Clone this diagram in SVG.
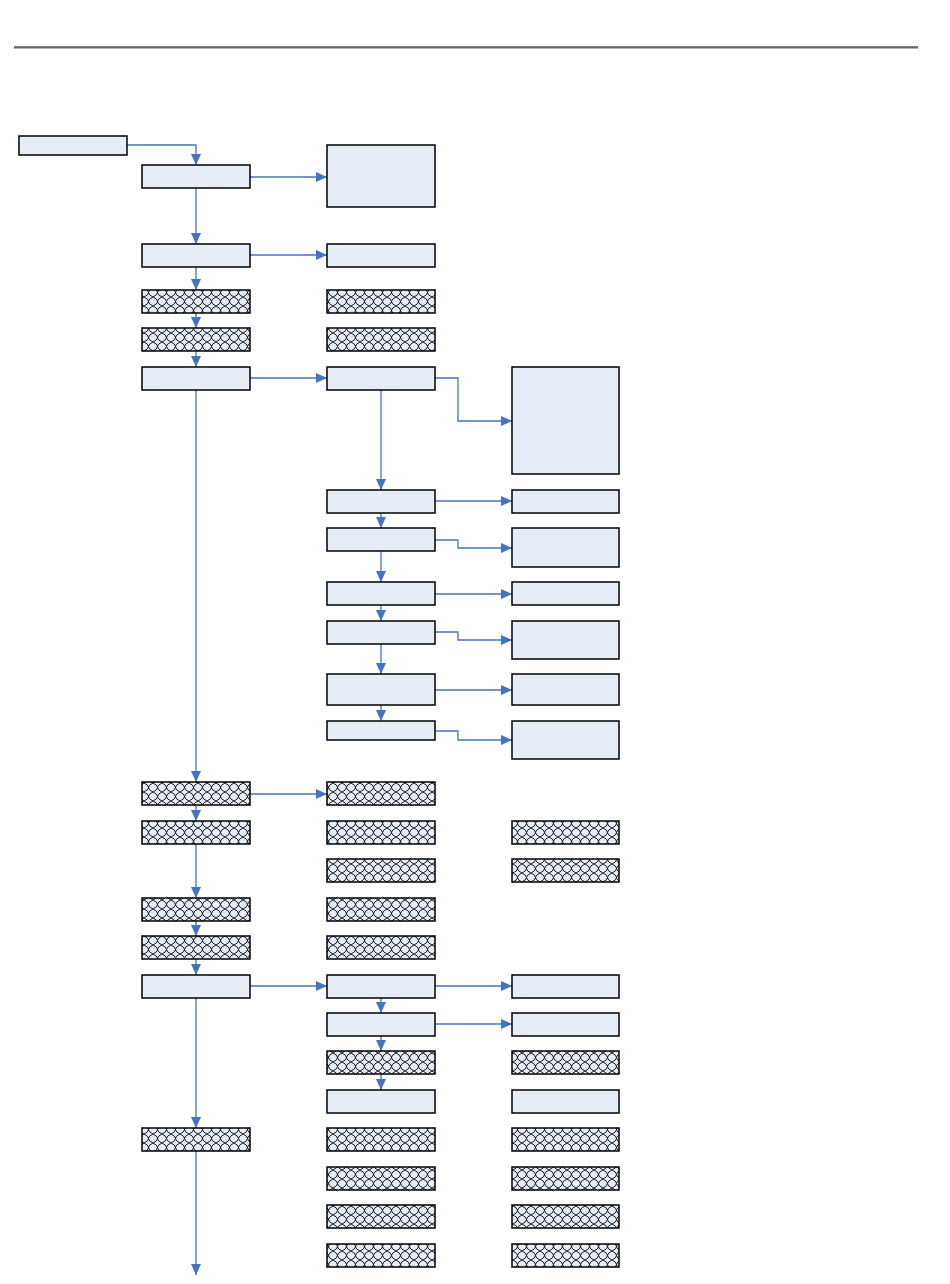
<svg xmlns="http://www.w3.org/2000/svg" width="950" height="1284" viewBox="0 0 950 1284">
<defs>
<style>
.b{fill:#E6EDF7;stroke:#000;stroke-width:1.5}
.h{fill:url(#hatch);stroke:#000;stroke-width:1.5}
.c{fill:none;stroke:#4472C4;stroke-width:1.3;marker-end:url(#arr)}
</style>
<pattern id="hatch" patternUnits="userSpaceOnUse" width="9" height="9">
<rect width="9" height="9" fill="#E6EDF7"/>
<path d="M0,0 Q4.5,2 4.5,4.5 Q4.5,7 9,9 M0,9 Q4.5,7 4.5,4.5 M4.5,4.5 Q4.5,2 9,0" stroke="#000" stroke-width="0.9" fill="none"/>
</pattern>
<marker id="arr" markerUnits="userSpaceOnUse" markerWidth="11" markerHeight="10" refX="11" refY="5" orient="auto">
<path d="M0,0 L11,5 L0,10 z" fill="#4472C4"/>
</marker>
</defs>
<rect width="950" height="1284" fill="#fff"/>
<line x1="14" y1="47" x2="918" y2="47" stroke="#808080" stroke-width="2"/>
<line x1="14" y1="48" x2="918" y2="48" stroke="#404040" stroke-width="0.8"/>
<g id="connectors">
<path class="c" d="M127,145 H196 V165"/>
<path class="c" d="M250,177 H327"/>
<path class="c" d="M196,188 V244"/>
<path class="c" d="M250,255 H327"/>
<path class="c" d="M196,267 V290"/>
<path class="c" d="M196,313 V328"/>
<path class="c" d="M196,351 V367"/>
<path class="c" d="M250,378 H327"/>
<path class="c" d="M435,378 H458 V421 H512"/>
<path class="c" d="M381,390 V490"/>
<path class="c" d="M435,501 H512"/>
<path class="c" d="M381,513 V528"/>
<path class="c" d="M435,540 H458 V548 H512"/>
<path class="c" d="M381,551 V582"/>
<path class="c" d="M435,594 H512"/>
<path class="c" d="M381,605 V621"/>
<path class="c" d="M435,632 H458 V640 H512"/>
<path class="c" d="M381,644 V674"/>
<path class="c" d="M435,690 H512"/>
<path class="c" d="M381,705 V721"/>
<path class="c" d="M435,731 H458 V740 H512"/>
<path class="c" d="M196,390 V782"/>
<path class="c" d="M250,794 H327"/>
<path class="c" d="M196,805 V821"/>
<path class="c" d="M196,844 V898"/>
<path class="c" d="M196,921 V936"/>
<path class="c" d="M196,959 V975"/>
<path class="c" d="M250,986 H327"/>
<path class="c" d="M435,986 H512"/>
<path class="c" d="M381,998 V1013"/>
<path class="c" d="M435,1024 H512"/>
<path class="c" d="M381,1036 V1051"/>
<path class="c" d="M381,1074 V1090"/>
<path class="c" d="M196,998 V1128"/>
<path class="c" d="M196,1151 V1275"/>
</g>
<g id="n1"><rect class="b" x="19" y="136" width="108" height="19"/></g>
<g id="n2"><rect class="b" x="142" y="165" width="108" height="23"/></g>
<g id="n3"><rect class="b" x="327" y="145" width="108" height="62"/></g>
<g id="n4"><rect class="b" x="142" y="244" width="108" height="23"/></g>
<g id="n5"><rect class="b" x="327" y="244" width="108" height="23"/></g>
<g id="n6"><rect class="h" x="142" y="290" width="108" height="23"/></g>
<g id="n7"><rect class="h" x="327" y="290" width="108" height="23"/></g>
<g id="n8"><rect class="h" x="142" y="328" width="108" height="23"/></g>
<g id="n9"><rect class="h" x="327" y="328" width="108" height="23"/></g>
<g id="n10"><rect class="b" x="142" y="367" width="108" height="23"/></g>
<g id="n11"><rect class="b" x="327" y="367" width="108" height="23"/></g>
<g id="n12"><rect class="b" x="512" y="367" width="107" height="107"/></g>
<g id="n13"><rect class="b" x="327" y="490" width="108" height="23"/></g>
<g id="n14"><rect class="b" x="512" y="490" width="107" height="23"/></g>
<g id="n15"><rect class="b" x="327" y="528" width="108" height="23"/></g>
<g id="n16"><rect class="b" x="512" y="528" width="107" height="39"/></g>
<g id="n17"><rect class="b" x="327" y="582" width="108" height="23"/></g>
<g id="n18"><rect class="b" x="512" y="582" width="107" height="23"/></g>
<g id="n19"><rect class="b" x="327" y="621" width="108" height="23"/></g>
<g id="n20"><rect class="b" x="512" y="621" width="107" height="38"/></g>
<g id="n21"><rect class="b" x="327" y="674" width="108" height="31"/></g>
<g id="n22"><rect class="b" x="512" y="674" width="107" height="31"/></g>
<g id="n23"><rect class="b" x="327" y="721" width="108" height="19"/></g>
<g id="n24"><rect class="b" x="512" y="721" width="107" height="38"/></g>
<g id="n25"><rect class="h" x="142" y="782" width="108" height="23"/></g>
<g id="n26"><rect class="h" x="327" y="782" width="108" height="23"/></g>
<g id="n27"><rect class="h" x="142" y="821" width="108" height="23"/></g>
<g id="n28"><rect class="h" x="327" y="821" width="108" height="23"/></g>
<g id="n29"><rect class="h" x="512" y="821" width="107" height="23"/></g>
<g id="n30"><rect class="h" x="327" y="859" width="108" height="23"/></g>
<g id="n31"><rect class="h" x="512" y="859" width="107" height="23"/></g>
<g id="n32"><rect class="h" x="142" y="898" width="108" height="23"/></g>
<g id="n33"><rect class="h" x="327" y="898" width="108" height="23"/></g>
<g id="n34"><rect class="h" x="142" y="936" width="108" height="23"/></g>
<g id="n35"><rect class="h" x="327" y="936" width="108" height="23"/></g>
<g id="n36"><rect class="b" x="142" y="975" width="108" height="23"/></g>
<g id="n37"><rect class="b" x="327" y="975" width="108" height="23"/></g>
<g id="n38"><rect class="b" x="512" y="975" width="107" height="23"/></g>
<g id="n39"><rect class="b" x="327" y="1013" width="108" height="23"/></g>
<g id="n40"><rect class="b" x="512" y="1013" width="107" height="23"/></g>
<g id="n41"><rect class="h" x="327" y="1051" width="108" height="23"/></g>
<g id="n42"><rect class="h" x="512" y="1051" width="107" height="23"/></g>
<g id="n43"><rect class="b" x="327" y="1090" width="108" height="23"/></g>
<g id="n44"><rect class="b" x="512" y="1090" width="107" height="23"/></g>
<g id="n45"><rect class="h" x="142" y="1128" width="108" height="23"/></g>
<g id="n46"><rect class="h" x="327" y="1128" width="108" height="23"/></g>
<g id="n47"><rect class="h" x="512" y="1128" width="107" height="23"/></g>
<g id="n48"><rect class="h" x="327" y="1167" width="108" height="23"/></g>
<g id="n49"><rect class="h" x="512" y="1167" width="107" height="23"/></g>
<g id="n50"><rect class="h" x="327" y="1205" width="108" height="23"/></g>
<g id="n51"><rect class="h" x="512" y="1205" width="107" height="23"/></g>
<g id="n52"><rect class="h" x="327" y="1244" width="108" height="23"/></g>
<g id="n53"><rect class="h" x="512" y="1244" width="107" height="23"/></g>
</svg>
